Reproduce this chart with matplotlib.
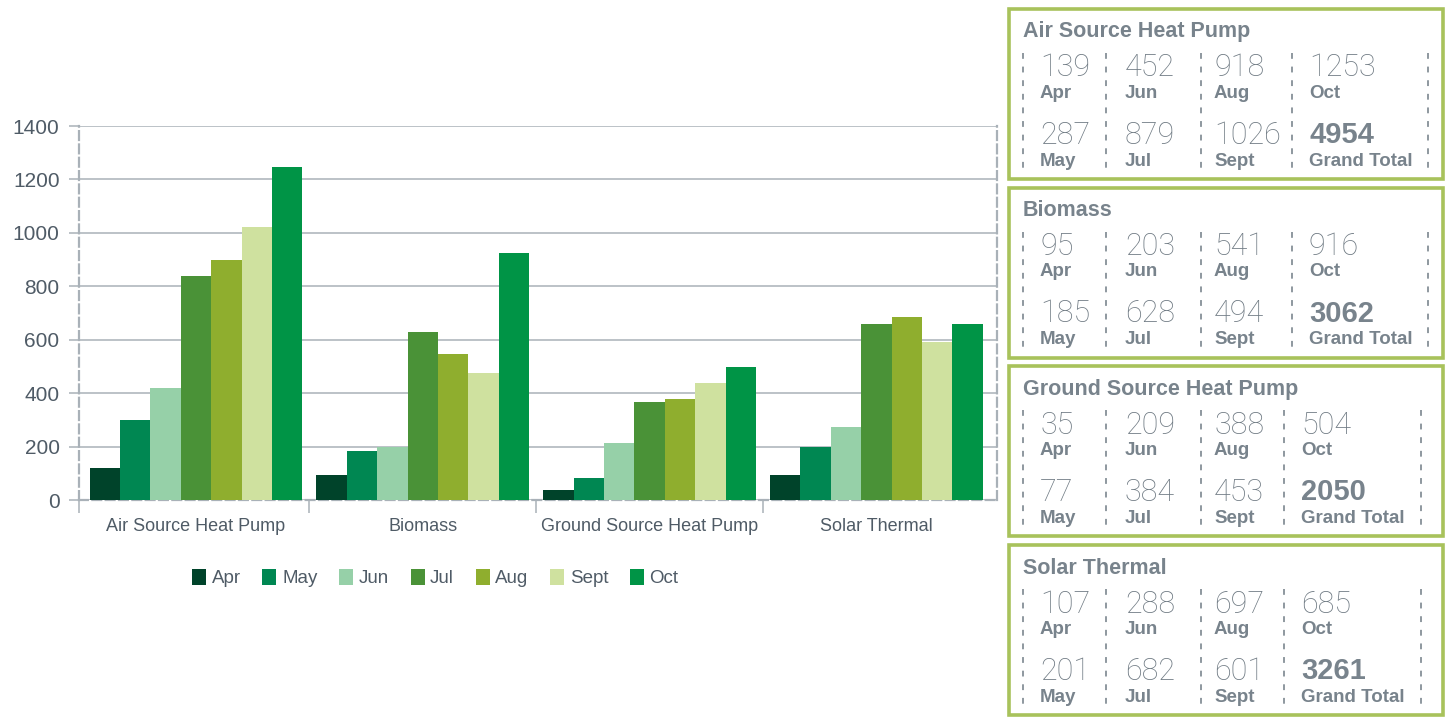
import matplotlib
matplotlib.use("Agg")
import matplotlib.pyplot as plt
from matplotlib.patches import Patch, Rectangle

plt.rcParams['font.family'] = ['Liberation Sans', 'DejaVu Sans']

categories = ["Air Source Heat Pump", "Biomass", "Ground Source Heat Pump", "Solar Thermal"]
months = ["Apr", "May", "Jun", "Jul", "Aug", "Sept", "Oct"]
colors = ["#00432a", "#008752", "#96d0a8", "#4a9237", "#8fae2e", "#cfe19f", "#009446"]

# bar heights as drawn in the chart
bar_air = [119, 300, 419, 839, 899, 1022, 1248]
bar_biomass = [94, 184, 198, 629, 547, 476, 925]
bar_ground = [37, 82, 213, 367, 378, 438, 498]
bar_solar = [94, 198, 273, 659, 685, 592, 659]

# figures printed in the summary boxes
box_air = [139, 287, 452, 879, 918, 1026, 1253]
box_biomass = [95, 185, 203, 628, 541, 494, 916]
box_ground = [35, 77, 209, 384, 388, 453, 504]
box_solar = [107, 201, 288, 682, 697, 601, 685]

yticks = [0, 200, 400, 600, 800, 1000, 1200, 1400]

grid_col = "#a9b1b8"
axis_txt = "#4f5b66"
box_txt = "#78838c"
box_edge = "#a8c25b"

W, H = 1446, 720
fig = plt.figure(figsize=(W / 100, H / 100), dpi=100)

# ---- main bar chart ----
ax = fig.add_axes([79 / W, 1 - 500 / H, 918 / W, 374 / H])
bars = [bar_air, bar_biomass, bar_ground, bar_solar]
x = list(range(len(categories)))
w = 0.134
for j, m in enumerate(months):
    heights = [b[j] for b in bars]
    ax.bar([xi + (j - 3) * w for xi in x], heights, w, color=colors[j], zorder=3)

ax.set_xlim(-0.516, 3.532)
ax.set_ylim(0, 1400)
ax.set_yticks(yticks)
ax.set_yticklabels([str(t) for t in yticks], fontsize=15, color=axis_txt)
ax.yaxis.grid(True, color=grid_col, lw=1.1, zorder=0)
ax.tick_params(axis='y', length=7, width=1.1, color=grid_col, pad=7)

ax.set_xticks(x)
ax.set_xticklabels(categories, fontsize=13, color=axis_txt)
ax.tick_params(axis='x', which='major', length=0, pad=13)
ax.set_xticks([-0.516, 0.5, 1.5, 2.5], minor=True)
ax.tick_params(axis='x', which='minor', length=9, width=1.1, color=grid_col)

for side in ["left", "right", "bottom"]:
    ax.spines[side].set_color(grid_col)
    ax.spines[side].set_linewidth(1.6)
    ax.spines[side].set_linestyle((0, (4, 2)))
ax.spines["top"].set_visible(False)

handles = [Patch(facecolor=c, edgecolor='none') for c in colors]
fig.legend(handles, months, loc='center left', bbox_to_anchor=(192 / W, 1 - 578 / H),
           ncol=7, frameon=False, fontsize=13.5, labelcolor=axis_txt,
           handlelength=0.75, handleheight=0.96, handletextpad=0.3,
           columnspacing=1.15, borderpad=0, borderaxespad=0)

# ---- summary boxes on the right ----
ov = fig.add_axes([0, 0, 1, 1])
ov.set_xlim(0, W)
ov.set_ylim(H, 0)
ov.axis('off')

box_vals = [box_air, box_biomass, box_ground, box_solar]
box_seps = [[1023, 1106, 1201, 1292, 1428],
            [1023, 1106, 1201, 1292, 1428],
            [1023, 1106, 1201, 1284, 1421],
            [1023, 1106, 1201, 1284, 1421]]

for k, name in enumerate(categories):
    top = 9 + k * 178.7
    ov.add_patch(Rectangle((1009, top), 434, 170, fill=False, edgecolor=box_edge, lw=2.6))
    ov.text(1023, top + 23, name, fontsize=15.5, fontweight='bold', color=box_txt,
            va='center', ha='left')
    seps = box_seps[k]
    for sx in seps:
        ov.plot([sx, sx], [top + 44, top + 160], color="#8e989f", lw=1.4,
                linestyle=(0, (3, 4)))
    vals = box_vals[k]
    starts = [seps[0] + 17, seps[1] + 19, seps[2] + 13, seps[3] + 17]
    for c in range(4):
        for r in range(2):
            if c == 3 and r == 1:
                num, lab, wt = str(sum(vals)), "Grand Total", 'bold'
            else:
                idx = 2 * c + r
                num, lab, wt = str(vals[idx]), months[idx], 'light'
            ny = top + 59 + r * 67
            ly = top + 84 + r * 68
            if wt == 'bold':
                ov.text(starts[c], ny, num, fontsize=21, fontweight='bold',
                        color=box_txt, va='center', ha='left')
            else:
                ov.text(starts[c], ny, num, fontsize=22, fontweight='light',
                        family=['Roboto', 'DejaVu Sans'], color="#6f7a83",
                        va='center', ha='left')
            ov.text(starts[c], ly, lab, fontsize=13.5, fontweight='bold',
                    color=box_txt, va='center', ha='left')

fig.savefig("out.png", dpi=100)
